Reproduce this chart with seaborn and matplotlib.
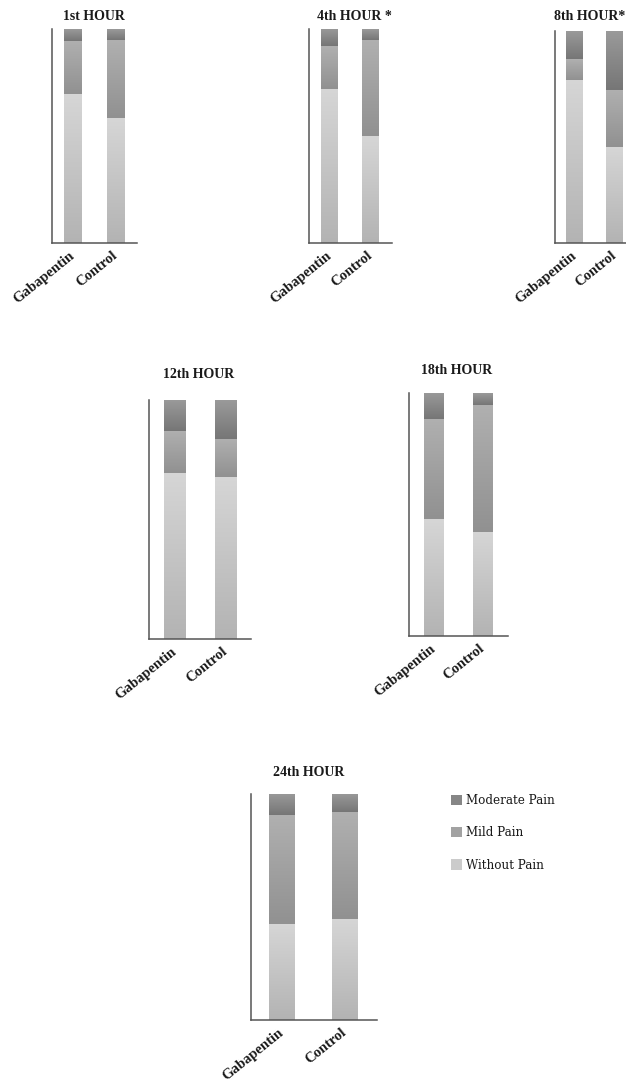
import numpy as np
import pandas as pd
import matplotlib
matplotlib.use("Agg")
import matplotlib.pyplot as plt
from matplotlib.colors import LinearSegmentedColormap, to_hex
from matplotlib.patches import Patch
import seaborn as sns

# ---------------- data (percent of patients) ----------------
hours = ["1st HOUR", "4th HOUR *", "8th HOUR*", "12th HOUR", "18th HOUR", "24th HOUR"]
groups = ["Gabapentin", "Control"]
levels = ["Moderate Pain", "Mild Pain", "Without Pain"]

without_pain = [[69.6, 58.4], [72.0, 50.0], [76.9, 45.3], [69.5, 67.8], [48.1, 42.8], [42.5, 44.7]]
mild_pain = [[24.8, 36.4], [20.0, 44.9], [9.9, 26.9], [17.6, 15.9], [41.2, 52.3], [48.2, 47.3]]
moderate_pain = [[5.6, 5.1], [8.0, 5.1], [13.2, 27.8], [13.0, 16.3], [10.7, 4.9], [9.3, 8.0]]

# ---------------- style ----------------
sns.set_theme(style="white")
plt.rcParams["font.family"] = ["Liberation Serif", "DejaVu Serif"]

W, H = 626, 1092
fig = plt.figure(figsize=(W / 100, H / 100), dpi=100)

# layout in pixels: left, top, right, bottom, center1, center2, bar width px, title x, title y
layout = [
    (52, 29, 137, 243, 73.0, 116.0, 18, 94, 17),
    (309, 29, 392, 243, 329.5, 370.5, 17, 354, 17),
    (555, 31, 634, 243, 574.5, 614.5, 17, 590, 17),
    (149, 400, 251, 639, 175.0, 225.5, 21.5, 198.5, 375),
    (409, 393, 508, 636, 434.0, 483.0, 20, 457, 371),
    (251, 794, 377, 1020, 282.0, 345.0, 26, 309, 773),
]

flat = {"Moderate Pain": "#868686", "Mild Pain": "#a2a2a2", "Without Pain": "#cbcbcb"}
grad = {
    "Moderate Pain": ("#9a9a9a", "#767676"),
    "Mild Pain": ("#b0b0b0", "#919191"),
    "Without Pain": ("#d6d6d6", "#b3b3b3"),
}
hex2level = {to_hex(c): k for k, c in flat.items()}

for i, hour in enumerate(hours):
    left, top, right, bottom, c1, c2, bw, tx, ty = layout[i]
    ax = fig.add_axes([left / W, 1 - bottom / H, (right - left) / W, (bottom - top) / H])

    rows = []
    for g, grp in enumerate(groups):
        rows.append((grp, "Moderate Pain", moderate_pain[i][g]))
        rows.append((grp, "Mild Pain", mild_pain[i][g]))
        rows.append((grp, "Without Pain", without_pain[i][g]))
    df = pd.DataFrame(rows, columns=["group", "level", "pct"])

    d = c2 - c1
    sns.histplot(data=df, x="group", hue="level", weights="pct", multiple="stack",
                 hue_order=levels, palette=flat, discrete=True, shrink=bw / d,
                 edgecolor="none", linewidth=0, alpha=1, legend=False, ax=ax)

    # vertical gradient fill for each stacked segment
    for p in list(ax.patches):
        lvl = hex2level.get(to_hex(p.get_facecolor()))
        if lvl is None:
            continue
        x0, y0, w, h = p.get_x(), p.get_y(), p.get_width(), p.get_height()
        cmap = LinearSegmentedColormap.from_list(lvl, list(grad[lvl]))
        arr = np.linspace(0, 1, 128).reshape(-1, 1)
        ax.imshow(arr, cmap=cmap, aspect="auto", origin="upper",
                  extent=(x0, x0 + w, y0, y0 + h), interpolation="bilinear", zorder=2)

    ax.set_xlim(-(c1 - left) / d, 1 + (right - c2) / d)
    ax.set_ylim(0, 100)
    ax.set_xlabel("")
    ax.set_ylabel("")
    ax.set_yticks([])
    ax.set_xticks([0, 1])
    ax.set_xticklabels(groups, rotation=39, ha="right", va="center",
                       rotation_mode="anchor", fontweight="bold", fontsize=10.5,
                       color="#1a1a1a")
    ax.tick_params(axis="x", length=0, pad=8)
    for s in ["top", "right"]:
        ax.spines[s].set_visible(False)
    for s in ["left", "bottom"]:
        ax.spines[s].set_color("#555555")
        ax.spines[s].set_linewidth(1.1)
        ax.spines[s].set_zorder(3)
    ax.patch.set_alpha(0)

    fig.text(tx / W, 1 - ty / H, hour, ha="center", va="center",
             fontsize=10, fontweight="bold", color="#1a1a1a")

handles = [Patch(facecolor=flat[k], edgecolor="none", label=k) for k in levels]
fig.legend(handles=handles, loc="upper left", bbox_to_anchor=(451 / W, 1 - 794 / H),
           frameon=False, prop={"family": "DejaVu Serif", "size": 8.6},
           handlelength=0.95, handleheight=0.95,
           handletextpad=0.3, labelspacing=1.62, borderaxespad=0, borderpad=0,
           labelcolor="#1a1a1a")

fig.savefig("out.png", dpi=100)
